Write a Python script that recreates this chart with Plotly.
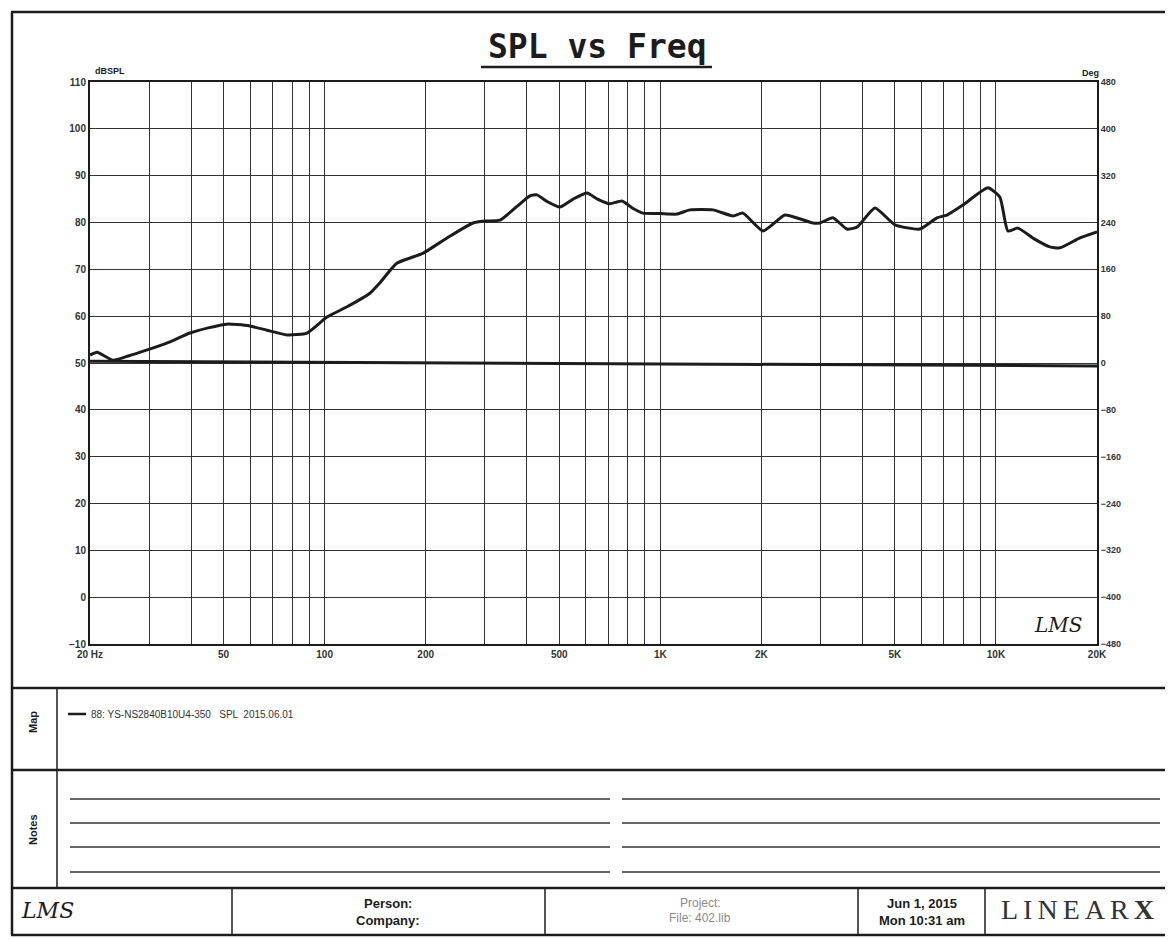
import plotly.graph_objects as go

# ---------------- data ----------------
freq_hz = [20, 21, 23.4, 26, 29.6, 34, 39.7, 45, 51.2, 55, 59.9, 67.3, 77.3, 88.6,
           101.6, 116.6, 136.5, 146, 164, 196, 231.5, 276.6, 300, 333, 375, 409, 429,
           460, 502, 550, 605, 650, 708, 769, 830, 888, 1000, 1121, 1225, 1435, 1646,
           1763, 2022, 2351, 2600, 2849, 2989, 3269, 3597, 3853, 4361, 5001, 5935,
           6671, 7146, 8000, 9462, 10275, 10855, 11624, 13000, 14478, 15510, 17790, 20000]
spl_db = [51.7, 52.3, 50.6, 51.5, 52.8, 54.3, 56.4, 57.5, 58.3, 58.2, 57.9, 57.0, 56.0, 56.4,
          59.8, 62.0, 64.9, 67.1, 71.3, 73.4, 76.7, 79.9, 80.3, 80.5, 83.5, 85.7, 85.9,
          84.5, 83.3, 85.0, 86.3, 85.0, 84.0, 84.6, 83.0, 82.0, 81.9, 81.8, 82.7, 82.7, 81.4,
          82.0, 78.2, 81.6, 80.8, 79.9, 79.9, 81.0, 78.6, 79.0, 83.1, 79.5, 78.6,
          81.0, 81.6, 83.8, 87.4, 85.4, 78.2, 78.8, 76.5, 74.8, 74.6, 76.7, 78.0]

phase_freq = [20, 100, 1000, 20000]
phase_deg = [3, 1, -2, -5]

x_grid = [20, 30, 40, 50, 60, 70, 80, 90, 100, 200, 300, 400, 500, 600, 700, 800, 900,
          1000, 2000, 3000, 4000, 5000, 6000, 7000, 8000, 9000, 10000, 20000]
x_labels = {20: "20 Hz", 50: "50", 100: "100", 200: "200", 500: "500", 1000: "1K",
            2000: "2K", 5000: "5K", 10000: "10K", 20000: "20K"}
y_ticks = [-10, 0, 10, 20, 30, 40, 50, 60, 70, 80, 90, 100, 110]
deg_ticks = [-480, -400, -320, -240, -160, -80, 0, 80, 160, 240, 320, 400, 480]

title_text = "SPL vs Freq"
legend_text = "88: YS-NS2840B10U4-350   SPL  2015.06.01"

# ---------------- layout helpers ----------------
OFF = 8                       # page body margin of the browser
W, H = 1173 - OFF, 939 - OFF  # figure size that fits the window


def px(x):
    return (x - OFF) / W


def py(y):
    return 1 - (y - OFF) / H


INK = "#1c1c1c"
FONT = "Liberation Sans, Arial, sans-serif"

fig = go.Figure()

fig.add_trace(go.Scatter(x=freq_hz, y=spl_db, mode="lines",
                         line=dict(color=INK, width=3, shape="spline", smoothing=0.5),
                         showlegend=False, hoverinfo="skip"))
fig.add_trace(go.Scatter(x=phase_freq, y=phase_deg, mode="lines", yaxis="y2",
                         line=dict(color=INK, width=3),
                         showlegend=False, hoverinfo="skip"))

fig.update_layout(
    width=W, height=H,
    margin=dict(l=0, r=0, t=0, b=0, pad=0, autoexpand=False),
    paper_bgcolor="white", plot_bgcolor="white",
    xaxis=dict(type="log", domain=[px(90), px(1097)],
               range=[1.30103, 4.30103], automargin=False,
               tickvals=x_grid, ticktext=[x_labels.get(v, "") for v in x_grid],
               showgrid=True, gridcolor="#333", gridwidth=1,
               showline=True, linecolor=INK, linewidth=2, mirror=True,
               ticks="", zeroline=False,
               tickfont=dict(family=FONT, size=10, color="#333", weight="bold")),
    yaxis=dict(domain=[py(644), py(82)], range=[-10, 110], automargin=False,
               tickvals=y_ticks, showgrid=True, gridcolor="#333", gridwidth=1,
               showline=True, linecolor=INK, linewidth=2, mirror=True,
               ticks="", zeroline=False,
               tickfont=dict(family=FONT, size=10, color="#333", weight="bold")),
    yaxis2=dict(overlaying="y", side="right", range=[-480, 480], automargin=False,
                tickvals=deg_ticks, showgrid=False, zeroline=False,
                showline=True, linecolor=INK, linewidth=2, ticks="",
                tickfont=dict(family=FONT, size=9, color="#333", weight="bold")),
)

shapes = []


def hline(x0, x1, y, w=1.5, color=INK):
    shapes.append(dict(type="line", xref="paper", yref="paper",
                       x0=px(x0), x1=px(x1), y0=py(y), y1=py(y),
                       line=dict(color=color, width=w)))


def vline(x, y0, y1, w=1.5, color=INK):
    shapes.append(dict(type="line", xref="paper", yref="paper",
                       x0=px(x), x1=px(x), y0=py(y0), y1=py(y1),
                       line=dict(color=color, width=w)))


# page frame
hline(11, 1170, 12, 2.5)
hline(11, 1170, 935, 2.5)
vline(12, 12, 935, 2.5)
vline(1169, 12, 935, 2)
# sections
hline(11, 1170, 688, 2.5)
hline(11, 1170, 770, 2.5)
hline(11, 1170, 888, 2.5)
vline(57, 688, 888, 1.5)
for xd in [232, 545, 858, 985]:
    vline(xd, 888, 935, 1.5)
# notes lines
for yl in [799, 823, 847, 872]:
    hline(70, 610, yl, 1.3, "#333")
    hline(622, 1160, yl, 1.3, "#333")
# title underline
hline(481, 712, 67, 2.5)
# map legend sample line
hline(68, 86, 714, 2.5)

fig.update_layout(shapes=shapes)

ann = []


def text(x, y, s, size=11, xanchor="center", color=INK, family=FONT, weight="bold",
         angle=0, style="normal"):
    ann.append(dict(x=px(x), y=py(y), xref="paper", yref="paper", text=s,
                    showarrow=False, xanchor=xanchor, yanchor="middle", textangle=angle,
                    font=dict(size=size, color=color, family=family, weight=weight,
                              style=style)))


text(597, 46, title_text, size=33, family="DejaVu Sans Mono, monospace")
text(93, 71, "dBSPL", size=9, xanchor="left")
text(1101, 73, "Deg", size=9, xanchor="right")
text(1058, 625, "LMS", size=20, family="DejaVu Serif, serif", weight="normal", style="italic")
text(33, 722, "Map", size=11, angle=-90)
text(33, 830, "Notes", size=11, angle=-90)
text(89, 714, legend_text, size=10, xanchor="left", color="#333", weight="normal")
text(47, 910, "LMS", size=22, family="DejaVu Serif, serif", weight="normal", style="italic")
text(388, 903, "Person:", size=13)
text(388, 920, "Company:", size=13)
text(700, 903, "Project:", size=12, color="#8a8a8a", weight="normal")
text(700, 918, "File: 402.lib", size=12, color="#8a8a8a", weight="normal")
text(922, 903, "Jun 1, 2015", size=13)
text(922, 920, "Mon 10:31 am", size=13)
text(1077, 909, '<span style="letter-spacing:5px">LINEAR</span><b>X</b>', size=28,
     family="Liberation Serif, Times New Roman, serif", weight="normal", color="#333")

fig.update_layout(annotations=ann)

fig.write_html("out.html")
